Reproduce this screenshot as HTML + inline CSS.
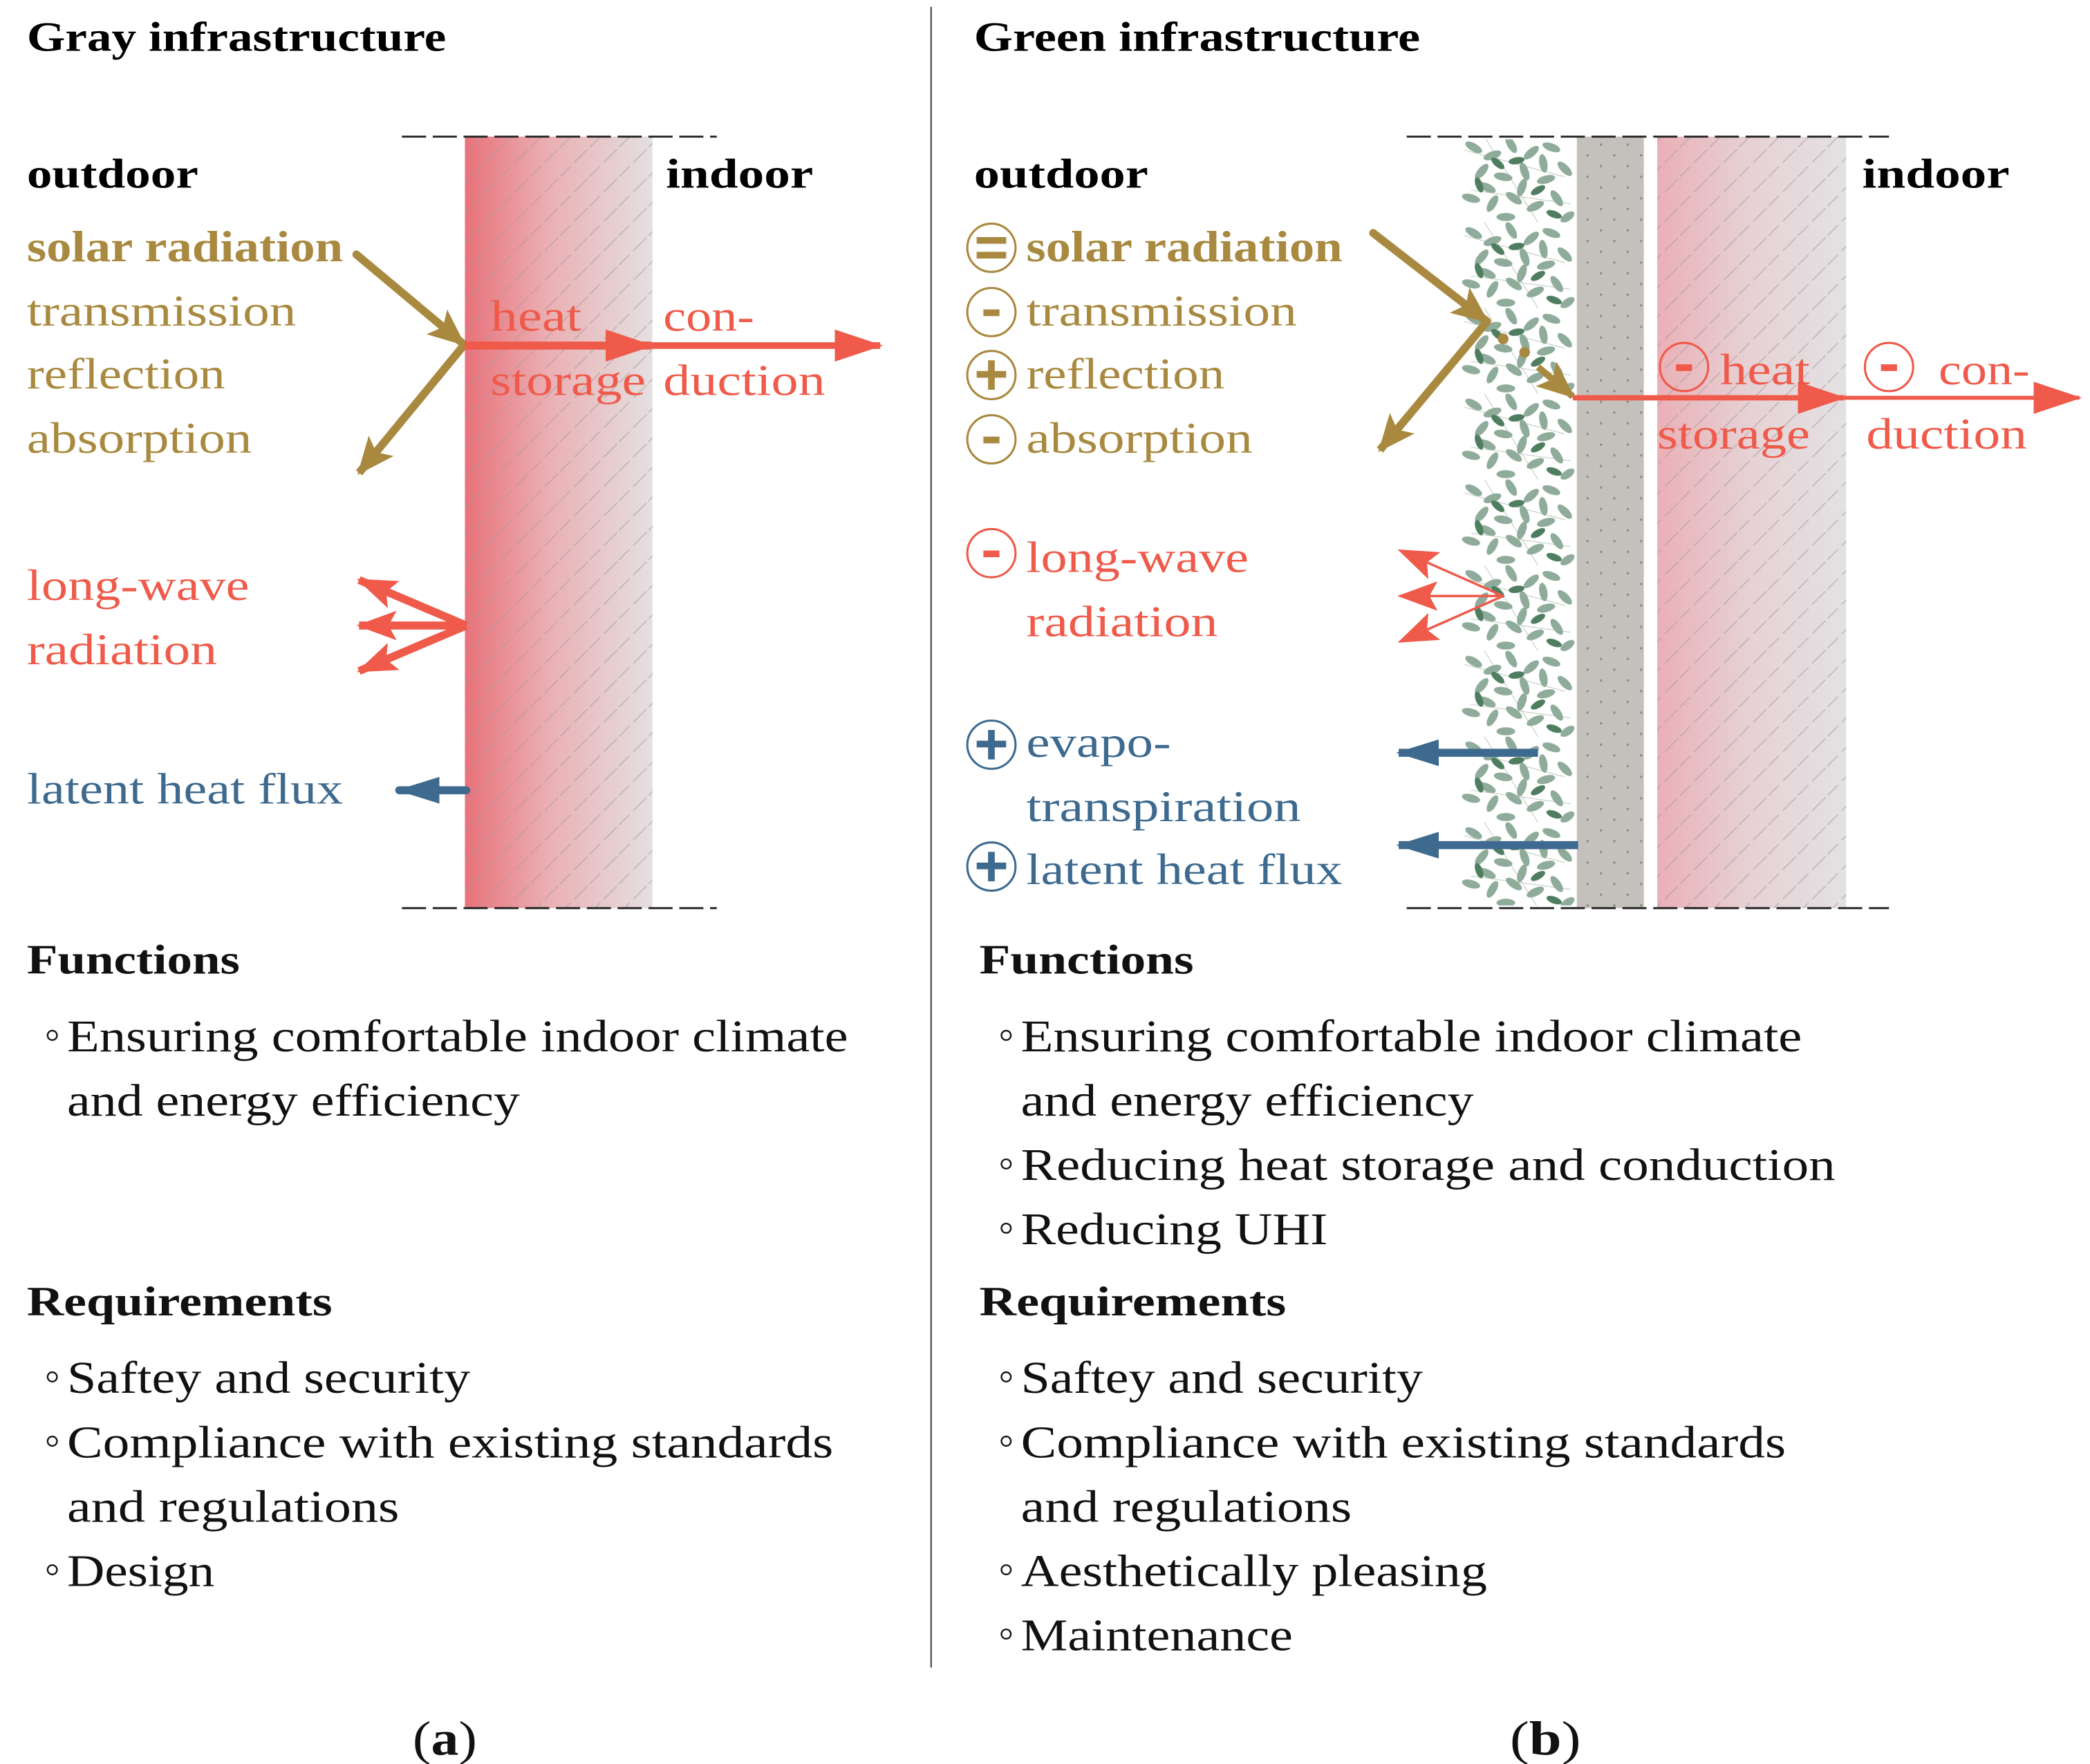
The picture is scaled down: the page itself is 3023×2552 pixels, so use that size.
<!DOCTYPE html>
<html><head><meta charset="utf-8"><style>
html,body{margin:0;padding:0;background:#fff;}
svg{display:block;}
text{font-family:"Liberation Serif","Times New Roman",serif;}
.b{font-weight:bold;}
</style></head><body>
<svg width="3023" height="2552" viewBox="0 0 1560 1317" xmlns="http://www.w3.org/2000/svg" font-family="Liberation Serif, serif">
<defs>
<linearGradient id="gL" x1="0" x2="1" y1="0" y2="0">
<stop offset="0" stop-color="#e8727a"/><stop offset="0.45" stop-color="#eab0b4"/><stop offset="1" stop-color="#e4e0e1"/></linearGradient>
<linearGradient id="gR" x1="0" x2="1" y1="0" y2="0">
<stop offset="0" stop-color="#eab0b6"/><stop offset="0.5" stop-color="#e6d2d5"/><stop offset="1" stop-color="#e3e1e3"/></linearGradient>
<pattern id="hatch" width="22" height="22" patternUnits="userSpaceOnUse">
<path d="M-2,24 L24,-2" stroke="#a89a9c" stroke-width="0.7" stroke-dasharray="14 4" opacity="0.7"/></pattern>
<pattern id="dots" width="20" height="16" patternUnits="userSpaceOnUse">
<circle cx="5" cy="4" r="0.9" fill="#8e8a86"/><circle cx="15" cy="12" r="0.9" fill="#8e8a86"/></pattern>
<pattern id="leaves" x="1088" y="102" width="88" height="64" patternUnits="userSpaceOnUse">
<path d="M5,10 L80,30 M10,40 L84,50 M20,0 L60,64" stroke="#b7c5bb" stroke-width="0.5" fill="none"/>
<g fill="#8fab9a">
<ellipse cx="12" cy="8" rx="7" ry="3" transform="rotate(30 12 8)"/>
<ellipse cx="26" cy="14" rx="7" ry="3" transform="rotate(-20 26 14)"/>
<ellipse cx="40" cy="6" rx="7" ry="3" transform="rotate(60 40 6)"/>
<ellipse cx="55" cy="12" rx="7" ry="3" transform="rotate(-40 55 12)"/>
<ellipse cx="70" cy="8" rx="7" ry="3" transform="rotate(20 70 8)"/>
<ellipse cx="18" cy="26" rx="7" ry="3" transform="rotate(-50 18 26)"/>
<ellipse cx="34" cy="30" rx="7" ry="3" transform="rotate(10 34 30)"/>
<ellipse cx="50" cy="26" rx="7" ry="3" transform="rotate(70 50 26)"/>
<ellipse cx="66" cy="32" rx="7" ry="3" transform="rotate(-15 66 32)"/>
<ellipse cx="80" cy="24" rx="7" ry="3" transform="rotate(45 80 24)"/>
<ellipse cx="10" cy="46" rx="7" ry="3" transform="rotate(15 10 46)"/>
<ellipse cx="26" cy="50" rx="7" ry="3" transform="rotate(-60 26 50)"/>
<ellipse cx="42" cy="46" rx="7" ry="3" transform="rotate(35 42 46)"/>
<ellipse cx="58" cy="52" rx="7" ry="3" transform="rotate(-25 58 52)"/>
<ellipse cx="74" cy="46" rx="7" ry="3" transform="rotate(55 74 46)"/>
<ellipse cx="36" cy="60" rx="7" ry="3" transform="rotate(0 36 60)"/>
<ellipse cx="48" cy="38" rx="7" ry="3" transform="rotate(-70 48 38)"/>
<ellipse cx="22" cy="38" rx="7" ry="3" transform="rotate(25 22 38)"/>
<ellipse cx="64" cy="20" rx="7" ry="3" transform="rotate(80 64 20)"/>
<ellipse cx="82" cy="60" rx="6" ry="3" transform="rotate(-35 82 60)"/>
</g>
<g fill="#4f7d5f">
<ellipse cx="30" cy="20" rx="6" ry="2.6" transform="rotate(40 30 20)"/>
<ellipse cx="60" cy="40" rx="6" ry="2.6" transform="rotate(-30 60 40)"/>
<ellipse cx="16" cy="36" rx="6" ry="2.6" transform="rotate(70 16 36)"/>
<ellipse cx="72" cy="58" rx="6" ry="2.6" transform="rotate(20 72 58)"/>
<ellipse cx="44" cy="18" rx="6" ry="2.6" transform="rotate(-10 44 18)"/>
</g>
</pattern>
<marker id="mGold" markerUnits="userSpaceOnUse" markerWidth="30" markerHeight="24" refX="26" refY="12" orient="auto"><path d="M0,0 L28,12 L0,24 L6,12 Z" fill="#a8893f"/></marker>
<marker id="mRed" markerUnits="userSpaceOnUse" markerWidth="36" markerHeight="24" refX="34" refY="12" orient="auto"><path d="M0,0 L36,12 L0,24 Z" fill="#ef5a4a"/></marker>
<marker id="mRed2" markerUnits="userSpaceOnUse" markerWidth="30" markerHeight="24" refX="28" refY="12" orient="auto"><path d="M0,1 L30,12 L0,23 L6,12 Z" fill="#ef5a4a"/></marker>
<marker id="mBlue" markerUnits="userSpaceOnUse" markerWidth="32" markerHeight="20" refX="30" refY="10" orient="auto"><path d="M0,0 L32,10 L0,20 Z" fill="#3e6a8f"/></marker>
</defs>

<line x1="695" y1="5" x2="695" y2="1245" stroke="#555" stroke-width="1.2"/>

<rect x="347" y="102" width="140" height="576" fill="url(#gL)"/>
<rect x="347" y="102" width="140" height="576" fill="url(#hatch)"/>
<line x1="300" y1="102" x2="535" y2="102" stroke="#222" stroke-width="1.5" stroke-dasharray="18 5"/>
<line x1="300" y1="678" x2="535" y2="678" stroke="#222" stroke-width="1.5" stroke-dasharray="18 5"/>

<rect x="1090" y="104" width="86" height="572" fill="url(#leaves)"/>
<rect x="1177" y="102" width="50" height="576" fill="#c4c0bb"/>
<rect x="1177" y="102" width="50" height="576" fill="url(#dots)"/>
<rect x="1237" y="102" width="141" height="576" fill="url(#gR)"/>
<rect x="1237" y="102" width="141" height="576" fill="url(#hatch)"/>
<line x1="1050" y1="102" x2="1410" y2="102" stroke="#222" stroke-width="1.5" stroke-dasharray="18 5"/>
<line x1="1050" y1="678" x2="1410" y2="678" stroke="#222" stroke-width="1.5" stroke-dasharray="18 5"/>

<text x="20" y="38" font-size="31" class="b" textLength="313" lengthAdjust="spacingAndGlyphs">Gray infrastructure</text>
<text x="727" y="38" font-size="31" class="b" textLength="333" lengthAdjust="spacingAndGlyphs">Green infrastructure</text>
<text x="20" y="140" font-size="31" class="b" textLength="128" lengthAdjust="spacingAndGlyphs">outdoor</text>
<text x="497" y="140" font-size="31" class="b" textLength="110" lengthAdjust="spacingAndGlyphs">indoor</text>
<text x="727" y="140" font-size="31" class="b" textLength="130" lengthAdjust="spacingAndGlyphs">outdoor</text>
<text x="1390" y="140" font-size="31" class="b" textLength="110" lengthAdjust="spacingAndGlyphs">indoor</text>

<g fill="#a8893f" font-size="33">
<text x="20" y="195" class="b" textLength="236" lengthAdjust="spacingAndGlyphs">solar radiation</text>
<text x="20" y="243" textLength="201" lengthAdjust="spacingAndGlyphs">transmission</text>
<text x="20" y="290" textLength="148" lengthAdjust="spacingAndGlyphs">reflection</text>
<text x="20" y="338" textLength="168" lengthAdjust="spacingAndGlyphs">absorption</text>
</g>
<g fill="#ef5a4a" font-size="33">
<text x="366" y="247" textLength="68" lengthAdjust="spacingAndGlyphs">heat</text>
<text x="366" y="295" textLength="116" lengthAdjust="spacingAndGlyphs">storage</text>
<text x="495" y="247" textLength="68" lengthAdjust="spacingAndGlyphs">con-</text>
<text x="495" y="295" textLength="121" lengthAdjust="spacingAndGlyphs">duction</text>
<text x="20" y="448" textLength="166" lengthAdjust="spacingAndGlyphs">long-wave</text>
<text x="20" y="496" textLength="142" lengthAdjust="spacingAndGlyphs">radiation</text>
</g>
<text x="20" y="600" fill="#3e6a8f" font-size="33" textLength="236" lengthAdjust="spacingAndGlyphs">latent heat flux</text>

<line x1="266" y1="190" x2="346" y2="257" stroke="#a8893f" stroke-width="6" stroke-linecap="round" marker-end="url(#mGold)"/>
<line x1="346" y1="258" x2="268" y2="353" stroke="#a8893f" stroke-width="6" marker-end="url(#mGold)"/>
<line x1="347" y1="258" x2="486" y2="258" stroke="#ef5a4a" stroke-width="6" marker-end="url(#mRed)"/>
<line x1="486" y1="258" x2="657" y2="258" stroke="#ef5a4a" stroke-width="5" marker-end="url(#mRed)"/>
<line x1="348" y1="467" x2="268" y2="433" stroke="#ef5a4a" stroke-width="6" marker-end="url(#mRed2)"/>
<line x1="348" y1="467" x2="268" y2="467" stroke="#ef5a4a" stroke-width="6" marker-end="url(#mRed2)"/>
<line x1="348" y1="467" x2="268" y2="501" stroke="#ef5a4a" stroke-width="6" marker-end="url(#mRed2)"/>
<line x1="348" y1="590" x2="298" y2="590" stroke="#3e6a8f" stroke-width="6" stroke-linecap="round" marker-end="url(#mBlue)"/>

<g fill="none" stroke-width="1.6">
<circle cx="740" cy="185" r="18" stroke="#a8893f"/>
<circle cx="740" cy="233" r="18" stroke="#a8893f"/>
<circle cx="740" cy="280" r="18" stroke="#a8893f"/>
<circle cx="740" cy="328" r="18" stroke="#a8893f"/>
<circle cx="740" cy="413" r="18" stroke="#ef5a4a"/>
<circle cx="740" cy="556" r="18" stroke="#3e6a8f"/>
<circle cx="740" cy="647" r="18" stroke="#3e6a8f"/>
<circle cx="1257" cy="274" r="18" stroke="#ef5a4a"/>
<circle cx="1410" cy="274" r="18" stroke="#ef5a4a"/>
</g>
<g fill="#a8893f">
<rect x="729" y="177" width="22" height="5"/><rect x="729" y="188" width="22" height="5"/>
<rect x="734" y="231" width="12" height="5"/>
<rect x="729" y="277" width="22" height="5"/><rect x="737.5" y="269" width="5" height="22"/>
<rect x="734" y="326" width="12" height="5"/>
</g>
<g fill="#ef5a4a">
<rect x="734" y="411" width="12" height="5"/>
<rect x="1251" y="272" width="12" height="5"/>
<rect x="1404" y="272" width="12" height="5"/>
</g>
<g fill="#3e6a8f">
<rect x="729" y="553" width="22" height="5"/><rect x="737.5" y="545" width="5" height="22"/>
<rect x="729" y="644" width="22" height="5"/><rect x="737.5" y="636" width="5" height="22"/>
</g>

<g fill="#a8893f" font-size="33">
<text x="766" y="195" class="b" textLength="236" lengthAdjust="spacingAndGlyphs">solar radiation</text>
<text x="766" y="243" textLength="202" lengthAdjust="spacingAndGlyphs">transmission</text>
<text x="766" y="290" textLength="148" lengthAdjust="spacingAndGlyphs">reflection</text>
<text x="766" y="338" textLength="169" lengthAdjust="spacingAndGlyphs">absorption</text>
</g>
<g fill="#ef5a4a" font-size="33">
<text x="766" y="427" textLength="166" lengthAdjust="spacingAndGlyphs">long-wave</text>
<text x="766" y="475" textLength="143" lengthAdjust="spacingAndGlyphs">radiation</text>
<text x="1284" y="287" textLength="67" lengthAdjust="spacingAndGlyphs">heat</text>
<text x="1237" y="335" textLength="114" lengthAdjust="spacingAndGlyphs">storage</text>
<text x="1447" y="287" textLength="68" lengthAdjust="spacingAndGlyphs">con-</text>
<text x="1393" y="335" textLength="120" lengthAdjust="spacingAndGlyphs">duction</text>
</g>
<g fill="#3e6a8f" font-size="33">
<text x="766" y="565" textLength="108" lengthAdjust="spacingAndGlyphs">evapo-</text>
<text x="766" y="613" textLength="205" lengthAdjust="spacingAndGlyphs">transpiration</text>
<text x="766" y="660" textLength="236" lengthAdjust="spacingAndGlyphs">latent heat flux</text>
</g>

<line x1="1025" y1="174" x2="1110" y2="240" stroke="#a8893f" stroke-width="6" stroke-linecap="round" marker-end="url(#mGold)"/>
<line x1="1110" y1="240" x2="1030" y2="336" stroke="#a8893f" stroke-width="6" marker-end="url(#mGold)"/>
<circle cx="1122" cy="253" r="4" fill="#a8893f"/><circle cx="1138" cy="263" r="4" fill="#a8893f"/>
<line x1="1148" y1="274" x2="1174" y2="296" stroke="#a8893f" stroke-width="5" marker-end="url(#mGold)"/>
<line x1="1174" y1="297" x2="1376" y2="297" stroke="#ef5a4a" stroke-width="4" marker-end="url(#mRed)"/>
<line x1="1376" y1="297" x2="1552" y2="297" stroke="#ef5a4a" stroke-width="3" marker-end="url(#mRed)"/>
<line x1="1122" y1="445" x2="1045" y2="411" stroke="#ef5a4a" stroke-width="1.8" marker-end="url(#mRed2)"/>
<line x1="1122" y1="445" x2="1045" y2="445" stroke="#ef5a4a" stroke-width="1.8" marker-end="url(#mRed2)"/>
<line x1="1122" y1="445" x2="1045" y2="479" stroke="#ef5a4a" stroke-width="1.8" marker-end="url(#mRed2)"/>
<line x1="1148" y1="562" x2="1044" y2="562" stroke="#3e6a8f" stroke-width="6" marker-end="url(#mBlue)"/>
<line x1="1178" y1="631" x2="1044" y2="631" stroke="#3e6a8f" stroke-width="6" marker-end="url(#mBlue)"/>

<g fill="none" stroke="#111" stroke-width="1.2">
<circle cx="39" cy="773" r="3.5"/><circle cx="39" cy="1028" r="3.5"/><circle cx="39" cy="1076" r="3.5"/><circle cx="39" cy="1172" r="3.5"/>
<circle cx="751" cy="773" r="3.5"/><circle cx="751" cy="869" r="3.5"/><circle cx="751" cy="917" r="3.5"/>
<circle cx="751" cy="1028" r="3.5"/><circle cx="751" cy="1076" r="3.5"/><circle cx="751" cy="1172" r="3.5"/><circle cx="751" cy="1220" r="3.5"/>
</g>

<g fill="#111" font-size="34">
<text x="20" y="727" class="b" font-size="31" textLength="159" lengthAdjust="spacingAndGlyphs">Functions</text>
<text x="50" y="785" textLength="583" lengthAdjust="spacingAndGlyphs">Ensuring comfortable indoor climate</text>
<text x="50" y="833" textLength="338" lengthAdjust="spacingAndGlyphs">and energy efficiency</text>
<text x="20" y="982" class="b" font-size="31" textLength="228" lengthAdjust="spacingAndGlyphs">Requirements</text>
<text x="50" y="1040" textLength="301" lengthAdjust="spacingAndGlyphs">Saftey and security</text>
<text x="50" y="1088" textLength="572" lengthAdjust="spacingAndGlyphs">Compliance with existing standards</text>
<text x="50" y="1136" textLength="248" lengthAdjust="spacingAndGlyphs">and regulations</text>
<text x="50" y="1184" textLength="110" lengthAdjust="spacingAndGlyphs">Design</text>
</g>

<g fill="#111" font-size="34">
<text x="731" y="727" class="b" font-size="31" textLength="160" lengthAdjust="spacingAndGlyphs">Functions</text>
<text x="762" y="785" textLength="583" lengthAdjust="spacingAndGlyphs">Ensuring comfortable indoor climate</text>
<text x="762" y="833" textLength="338" lengthAdjust="spacingAndGlyphs">and energy efficiency</text>
<text x="762" y="881" textLength="608" lengthAdjust="spacingAndGlyphs">Reducing heat storage and conduction</text>
<text x="762" y="929" textLength="229" lengthAdjust="spacingAndGlyphs">Reducing UHI</text>
<text x="731" y="982" class="b" font-size="31" textLength="229" lengthAdjust="spacingAndGlyphs">Requirements</text>
<text x="762" y="1040" textLength="300" lengthAdjust="spacingAndGlyphs">Saftey and security</text>
<text x="762" y="1088" textLength="571" lengthAdjust="spacingAndGlyphs">Compliance with existing standards</text>
<text x="762" y="1136" textLength="247" lengthAdjust="spacingAndGlyphs">and regulations</text>
<text x="762" y="1184" textLength="348" lengthAdjust="spacingAndGlyphs">Aesthetically pleasing</text>
<text x="762" y="1232" textLength="203" lengthAdjust="spacingAndGlyphs">Maintenance</text>
</g>

<text x="308" y="1310" font-size="36" fill="#111" textLength="48" lengthAdjust="spacingAndGlyphs">(<tspan class="b">a</tspan>)</text>
<text x="1127" y="1310" font-size="36" fill="#111" textLength="53" lengthAdjust="spacingAndGlyphs">(<tspan class="b">b</tspan>)</text>
</svg>
</body></html>
